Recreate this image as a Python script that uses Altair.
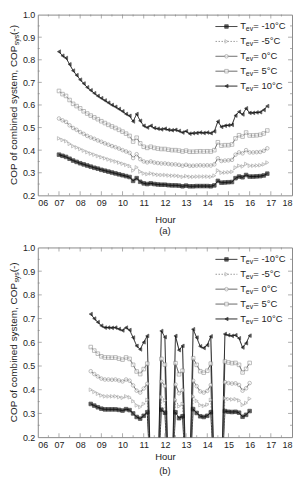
import altair as alt
import pandas as pd

SERIES = ["-10", "-5", "0", "5", "10"]
LEG_TAIL = ["= -10°C", "\u00a0= -5°C", "\u00a0= 0°C", "\u00a0= 5°C", "\u00a0= 10°C"]

# ---------------- panel (a) data: 07:00 .. 16:50 every 10 min ----------------
times_a = [f"{7 + m // 60:02d}:{m % 60:02d}" for m in range(0, 600, 10)]

a_m10 = [0.380, 0.375, 0.370, 0.362, 0.354, 0.348, 0.342, 0.337, 0.332, 0.327,
         0.322, 0.318, 0.313, 0.309, 0.305, 0.301, 0.297, 0.293, 0.289, 0.285,
         0.281, 0.264, 0.276, 0.260, 0.253, 0.250, 0.253, 0.250, 0.248, 0.247,
         0.247, 0.245, 0.244, 0.244, 0.243, 0.240, 0.243, 0.240, 0.240, 0.241,
         0.241, 0.241, 0.241, 0.240, 0.244, 0.264, 0.256, 0.257, 0.258, 0.259,
         0.276, 0.283, 0.280, 0.290, 0.283, 0.283, 0.284, 0.285, 0.288, 0.296]
a_m5 = [0.452, 0.445, 0.440, 0.428, 0.418, 0.412, 0.405, 0.398, 0.391, 0.385,
        0.380, 0.374, 0.369, 0.364, 0.359, 0.354, 0.350, 0.345, 0.340, 0.335,
        0.330, 0.310, 0.324, 0.305, 0.297, 0.294, 0.297, 0.293, 0.291, 0.290,
        0.290, 0.288, 0.287, 0.287, 0.285, 0.282, 0.285, 0.282, 0.282, 0.283,
        0.283, 0.283, 0.283, 0.282, 0.287, 0.310, 0.300, 0.301, 0.302, 0.304,
        0.323, 0.331, 0.328, 0.339, 0.331, 0.331, 0.332, 0.333, 0.337, 0.345]
a_0 = [0.540, 0.532, 0.525, 0.510, 0.498, 0.490, 0.480, 0.472, 0.463, 0.456,
       0.450, 0.443, 0.437, 0.430, 0.424, 0.418, 0.413, 0.407, 0.400, 0.394,
       0.388, 0.365, 0.382, 0.360, 0.350, 0.346, 0.350, 0.345, 0.343, 0.341,
       0.341, 0.339, 0.337, 0.337, 0.335, 0.331, 0.335, 0.331, 0.331, 0.332,
       0.333, 0.332, 0.333, 0.332, 0.337, 0.364, 0.352, 0.354, 0.355, 0.357,
       0.380, 0.390, 0.386, 0.400, 0.390, 0.390, 0.391, 0.392, 0.397, 0.408]
a_5 = [0.662, 0.648, 0.640, 0.622, 0.605, 0.595, 0.585, 0.572, 0.562, 0.553,
       0.545, 0.537, 0.528, 0.520, 0.512, 0.505, 0.498, 0.490, 0.482, 0.473,
       0.463, 0.438, 0.455, 0.430, 0.415, 0.410, 0.415, 0.410, 0.407, 0.405,
       0.405, 0.402, 0.400, 0.400, 0.398, 0.394, 0.398, 0.393, 0.393, 0.394,
       0.395, 0.394, 0.395, 0.394, 0.400, 0.435, 0.420, 0.422, 0.422, 0.425,
       0.452, 0.466, 0.460, 0.478, 0.465, 0.465, 0.466, 0.468, 0.474, 0.487]
a_10 = [0.836, 0.818, 0.808, 0.780, 0.752, 0.732, 0.712, 0.695, 0.678, 0.665,
        0.652, 0.640, 0.630, 0.620, 0.610, 0.600, 0.592, 0.582, 0.572, 0.560,
        0.552, 0.527, 0.560, 0.530, 0.508, 0.500, 0.508, 0.498, 0.495, 0.492,
        0.495, 0.490, 0.488, 0.490, 0.485, 0.478, 0.484, 0.473, 0.475, 0.476,
        0.478, 0.476, 0.478, 0.475, 0.483, 0.527, 0.503, 0.508, 0.510, 0.512,
        0.553, 0.570, 0.558, 0.585, 0.565, 0.565, 0.567, 0.568, 0.578, 0.595]

# ---------------- panel (b) data (0 = system off, drawn below the axis) ------
times_b = ["08:30", "08:40", "08:50", "09:00", "09:10", "09:20", "09:30", "09:40",
           "09:50", "10:00", "10:10", "10:20", "10:30", "10:40", "10:50", "11:00",
           "11:10", "11:20", "11:40", "11:50", "12:00", "12:10", "12:20", "12:30",
           "12:40", "12:50", "13:00", "13:10", "13:20", "13:30", "13:40", "13:50",
           "14:00", "14:10", "14:20", "14:40", "14:50", "15:00", "15:10", "15:20",
           "15:30", "15:40", "15:50", "16:00"]

b_10 = [0.719, 0.700, 0.685, 0.670, 0.662, 0.662, 0.661, 0.662, 0.656, 0.650,
        0.662, 0.652, 0.620, 0.585, 0.570, 0.600, 0.627, 0.0, 0.0, 0.648, 0.622,
        0.0, 0.0, 0.627, 0.567, 0.585, 0.0, 0.0, 0.655, 0.620, 0.583, 0.576,
        0.588, 0.625, 0.0, 0.0, 0.635, 0.630, 0.627, 0.630, 0.617, 0.578, 0.596, 0.628]
b_5 = [0.580, 0.565, 0.552, 0.541, 0.536, 0.536, 0.535, 0.536, 0.531, 0.527,
       0.536, 0.530, 0.505, 0.477, 0.466, 0.487, 0.510, 0.0, 0.0, 0.530, 0.506,
       0.0, 0.0, 0.512, 0.465, 0.480, 0.0, 0.0, 0.533, 0.505, 0.478, 0.472,
       0.480, 0.510, 0.0, 0.0, 0.519, 0.515, 0.512, 0.513, 0.505, 0.473, 0.488, 0.513]
b_0 = [0.478, 0.466, 0.456, 0.447, 0.443, 0.443, 0.442, 0.443, 0.439, 0.435,
       0.443, 0.438, 0.418, 0.396, 0.388, 0.405, 0.425, 0.0, 0.0, 0.435, 0.416,
       0.0, 0.0, 0.422, 0.385, 0.398, 0.0, 0.0, 0.438, 0.415, 0.393, 0.388,
       0.395, 0.420, 0.0, 0.0, 0.432, 0.428, 0.426, 0.427, 0.420, 0.396, 0.406, 0.428]
b_m5 = [0.400, 0.391, 0.383, 0.376, 0.372, 0.372, 0.372, 0.372, 0.369, 0.366,
        0.372, 0.368, 0.352, 0.334, 0.327, 0.340, 0.357, 0.0, 0.0, 0.369, 0.355,
        0.0, 0.0, 0.358, 0.330, 0.340, 0.0, 0.0, 0.372, 0.353, 0.335, 0.332,
        0.337, 0.357, 0.0, 0.0, 0.364, 0.361, 0.359, 0.360, 0.355, 0.336, 0.344, 0.362]
b_m10 = [0.340, 0.333, 0.326, 0.320, 0.317, 0.317, 0.317, 0.317, 0.315, 0.312,
         0.318, 0.314, 0.300, 0.285, 0.278, 0.290, 0.305, 0.0, 0.0, 0.316, 0.303,
         0.0, 0.0, 0.305, 0.280, 0.288, 0.0, 0.0, 0.318, 0.302, 0.288, 0.285,
         0.290, 0.305, 0.0, 0.0, 0.310, 0.307, 0.306, 0.307, 0.303, 0.286, 0.294, 0.310]

x_labels = list(range(6, 19))
x_minor = [6.5, 7.5, 8.5, 9.5, 10.5, 11.5, 12.5, 13.5, 14.5, 15.5, 16.5, 17.5]
x_major = list(range(7, 18))
y_labels = [0.2, 0.3, 0.4, 0.5, 0.6, 0.7, 0.8, 0.9, 1.0]
y_major = [0.3, 0.4, 0.5, 0.6, 0.7, 0.8, 0.9]
y_minor = [0.25, 0.35, 0.45, 0.55, 0.65, 0.75, 0.85, 0.95]


def to_hour(t):
    return int(t[:2]) + int(t[3:]) / 60.0


def long_df(times, series_vals):
    rows = []
    for s, vals in zip(SERIES, series_vals):
        for t, v in zip(times, vals):
            rows.append({"hour": to_hour(t), "cop": v, "series": s})
    return pd.DataFrame(rows)


df_a = long_df(times_a, [a_m10, a_m5, a_0, a_5, a_10])
df_b = long_df(times_b, [b_m10, b_m5, b_0, b_5, b_10])
leg_df = pd.DataFrame({"series": SERIES, "tail": LEG_TAIL})

W = 256
FONT = "Liberation Sans"
TXT = "#222222"
FRAME = "#8a8a8a"

xs = alt.Scale(domain=[6, 18], nice=False, zero=False)
ys = alt.Scale(domain=[0.2, 1.0], nice=False, zero=False)
color_scale = alt.Scale(domain=SERIES, range=["#111111", "#9a9a9a", "#555555", "#555555", "#111111"])
dash_scale = alt.Scale(domain=SERIES, range=[[1, 0], [1.5, 1.5], [1, 0], [1, 0], [1, 0]])
shape_scale = alt.Scale(domain=SERIES, range=["square", "triangle-right", "circle", "square", "triangle-left"])
fill_scale = alt.Scale(domain=SERIES, range=["#111111", "#ffffff", "#ffffff", "#ffffff", "#111111"])
pstroke_scale = alt.Scale(domain=SERIES, range=["#111111", "#9a9a9a", "#8a8a8a", "#8a8a8a", "#111111"])
leg_y = alt.Scale(type="point", domain=SERIES, range=[12, 72], padding=0)


def ticks_x(vals, length, ypix):
    return alt.Chart(pd.DataFrame({"h": vals})).mark_tick(
        orient="vertical", size=length, thickness=1, color=FRAME
    ).encode(x=alt.X("h:Q", scale=xs, axis=None), y=alt.value(ypix))


def ticks_y(vals, length, xpix):
    return alt.Chart(pd.DataFrame({"v": vals})).mark_tick(
        orient="horizontal", size=length, thickness=1, color=FRAME
    ).encode(y=alt.Y("v:Q", scale=ys, axis=None), x=alt.value(xpix))


def text_at(txt, x, y, size, angle=0, align="center"):
    return alt.Chart(pd.DataFrame({"t": [txt]})).mark_text(
        font=FONT, fontSize=size, color=TXT, angle=angle, align=align, baseline="middle"
    ).encode(text="t:N", x=alt.value(x), y=alt.value(y))


def panel(df, tag, H, title_pad, tag_dy):
    line = alt.Chart(df).mark_line(clip=True, strokeWidth=1).encode(
        x=alt.X("hour:Q", scale=xs, axis=alt.Axis(
            values=x_labels, format="02d", title="Hour", titlePadding=title_pad,
            labelPadding=3, ticks=False, domain=False, grid=False)),
        y=alt.Y("cop:Q", scale=ys, axis=alt.Axis(
            values=y_labels, format=".1f", title=None, labelPadding=3,
            ticks=False, domain=False, grid=False)),
        color=alt.Color("series:N", scale=color_scale, legend=None),
        strokeDash=alt.StrokeDash("series:N", scale=dash_scale, legend=None),
        order=alt.Order("hour:Q"),
    )
    pts = alt.Chart(df).mark_point(filled=True, clip=True, size=13, strokeWidth=0.8).encode(
        x=alt.X("hour:Q", scale=xs, axis=None),
        y=alt.Y("cop:Q", scale=ys, axis=None),
        shape=alt.Shape("series:N", scale=shape_scale, legend=None),
        fill=alt.Fill("series:N", scale=fill_scale, legend=None),
        stroke=alt.Stroke("series:N", scale=pstroke_scale, legend=None),
    )
    leg = alt.Chart(leg_df)
    leg_rule = leg.mark_rule(strokeWidth=1).encode(
        y=alt.Y("series:N", scale=leg_y, axis=None),
        x=alt.value(179), x2=alt.value(201),
        color=alt.Color("series:N", scale=color_scale, legend=None),
        strokeDash=alt.StrokeDash("series:N", scale=dash_scale, legend=None),
    )
    leg_pt = leg.mark_point(filled=True, size=13, strokeWidth=0.8).encode(
        y=alt.Y("series:N", scale=leg_y, axis=None),
        x=alt.value(190),
        shape=alt.Shape("series:N", scale=shape_scale, legend=None),
        fill=alt.Fill("series:N", scale=fill_scale, legend=None),
        stroke=alt.Stroke("series:N", scale=pstroke_scale, legend=None),
    )
    leg_T = leg.mark_text(font=FONT, fontSize=9.5, color=TXT, align="left", baseline="middle").encode(
        y=alt.Y("series:N", scale=leg_y, axis=None), x=alt.value(204), text=alt.value("T"))
    leg_ev = leg.mark_text(font=FONT, fontSize=7, color=TXT, align="left", baseline="middle", dy=3).encode(
        y=alt.Y("series:N", scale=leg_y, axis=None), x=alt.value(209.5), text=alt.value("ev"))
    leg_tail = leg.mark_text(font=FONT, fontSize=9.5, color=TXT, align="left", baseline="middle").encode(
        y=alt.Y("series:N", scale=leg_y, axis=None), x=alt.value(217), text="tail:N")

    ybot = H / 2 + 80.5
    layers = [
        line, pts,
        ticks_x(x_major, 4, H - 2), ticks_x(x_minor, 2, H - 1),
        ticks_x(x_major, 4, 2), ticks_x(x_minor, 2, 1),
        ticks_y(y_major, 4, 2), ticks_y(y_minor, 2, 1),
        ticks_y(y_major, 4, W - 2), ticks_y(y_minor, 2, W - 1),
        leg_rule, leg_pt, leg_T, leg_ev, leg_tail,
        text_at("COP of combined system, COP", -24, ybot, 10, angle=270, align="left"),
        text_at("sys", -20.5, ybot - 140.6, 7, angle=270, align="left"),
        text_at("(-)", -24, ybot - 151, 10, angle=270, align="left"),
        text_at(tag, W / 2, H + tag_dy, 9.5),
    ]
    return alt.layer(*layers).resolve_scale(y="independent").resolve_axis(
        x="independent", y="independent"
    ).properties(width=W, height=H)


pa = panel(df_a, "(a)", 182, 7, 35.5)
pb = panel(df_b, "(b)", 191, 3, 34)

chart = alt.vconcat(pa, pb, spacing=6.5).properties(
    padding={"left": 0, "top": 0, "right": 0, "bottom": 0}
).configure_view(stroke=FRAME, strokeWidth=1).configure_axis(
    labelFont=FONT, titleFont=FONT, labelFontSize=9, titleFontSize=9.5,
    titleFontWeight="normal", labelColor=TXT, titleColor=TXT
)

chart.save("out.html", embed_options={"renderer": "svg", "actions": False})
